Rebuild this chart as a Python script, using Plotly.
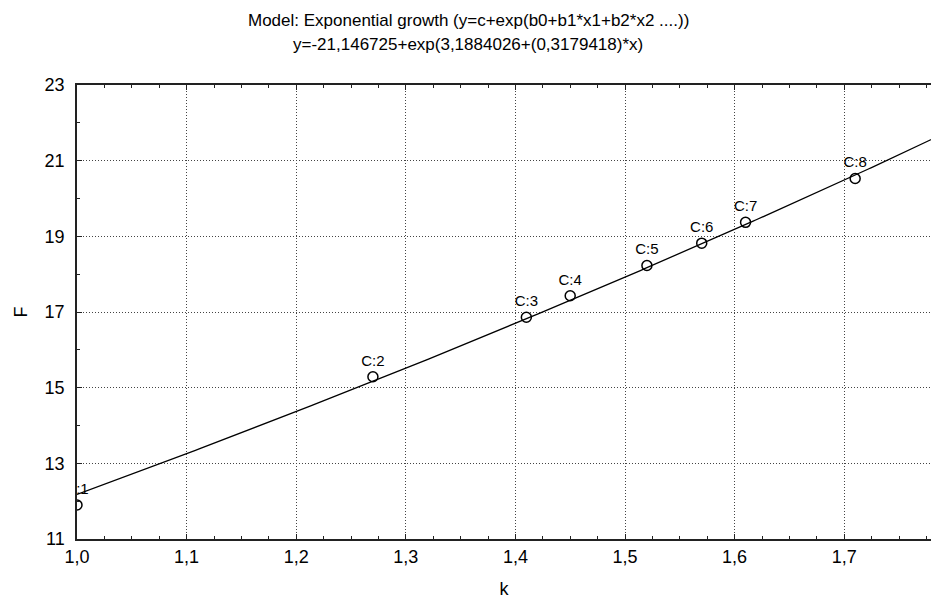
import numpy as np
import plotly.graph_objects as go

# Data
k_values = [1.00, 1.27, 1.41, 1.45, 1.52, 1.57, 1.61, 1.71]
F_values = [11.90, 15.29, 16.86, 17.43, 18.23, 18.82, 19.37, 20.53]
case_labels = ["C:1", "C:2", "C:3", "C:4", "C:5", "C:6", "C:7", "C:8"]

# Fitted model (from title): y = c + exp(b0 + b1*x)
c_coef = -21.146725
b0_coef = 3.1884026
b1_coef = 0.3179418

x_range = [1.0, 1.7792]
y_range = [11, 23]
x_ticks = [1.0, 1.1, 1.2, 1.3, 1.4, 1.5, 1.6, 1.7]
x_ticktext = ["1,0", "1,1", "1,2", "1,3", "1,4", "1,5", "1,6", "1,7"]
y_ticks = [11, 13, 15, 17, 19, 21, 23]
y_ticktext = ["11", "13", "15", "17", "19", "21", "23"]

title_line1 = "Model: Exponential growth (y=c+exp(b0+b1*x1+b2*x2 ....))"
title_line2 = "y=-21,146725+exp(3,1884026+(0,3179418)*x)"

FONT = "Liberation Sans, Arial, sans-serif"

xf = np.linspace(x_range[0], 1.85, 300)
yf = c_coef + np.exp(b0_coef + b1_coef * xf)

fig = go.Figure()
fig.add_trace(go.Scatter(
    x=xf, y=yf, mode="lines",
    line=dict(color="black", width=1.3),
    hoverinfo="skip", showlegend=False,
))
fig.add_trace(go.Scatter(
    x=k_values, y=F_values, mode="markers+text",
    text=case_labels, textposition="top center",
    textfont=dict(family=FONT, size=15, color="black"),
    marker=dict(symbol="circle-open", size=10, color="black",
                line=dict(width=1.5, color="black")),
    showlegend=False,
))

axis_common = dict(
    showline=True, linecolor="#222", linewidth=1.5,
    ticks="inside", tickcolor="#222", ticklen=5,
    showgrid=True, gridcolor="#444", griddash="1px,2px", gridwidth=1,
    zeroline=False, automargin=False,
    tickfont=dict(family=FONT, size=18, color="black"),
)

fig.update_xaxes(
    **axis_common,
    range=x_range, tickvals=x_ticks, ticktext=x_ticktext,
    mirror="allticks",
    minor=dict(dtick=0.025, tick0=1.0, ticks="inside", ticklen=3,
               tickcolor="#222", showgrid=False),
    title=dict(text="k", font=dict(family=FONT, size=18, color="black"),
               standoff=22),
    ticklabelstandoff=1,
)
fig.update_yaxes(
    **axis_common,
    range=y_range, tickvals=y_ticks, ticktext=y_ticktext,
    mirror=False,
    minor=dict(dtick=1, tick0=11, ticks="inside", ticklen=3,
               tickcolor="#222", showgrid=False),
    title=dict(text="F", font=dict(family=FONT, size=18, color="black"),
               standoff=12),
    ticklabelstandoff=7,
)

fig.update_layout(
    width=931, height=599,
    margin=dict(l=77, r=0, t=85, b=60, autoexpand=False),
    paper_bgcolor="white", plot_bgcolor="white",
    font=dict(family=FONT, size=17, color="black"),
    annotations=[
        dict(text=title_line1, xref="paper", yref="paper",
             x=(468 - 77) / 854, y=(539 - 20) / 454,
             xanchor="center", yanchor="middle", showarrow=False,
             font=dict(family=FONT, size=17, color="black")),
        dict(text=title_line2, xref="paper", yref="paper",
             x=(468 - 77) / 854, y=(539 - 45) / 454,
             xanchor="center", yanchor="middle", showarrow=False,
             font=dict(family=FONT, size=17, color="black")),
    ],
)

fig.write_html("out.html", config={"displayModeBar": False},
               post_script="document.body.style.margin='0px';")
